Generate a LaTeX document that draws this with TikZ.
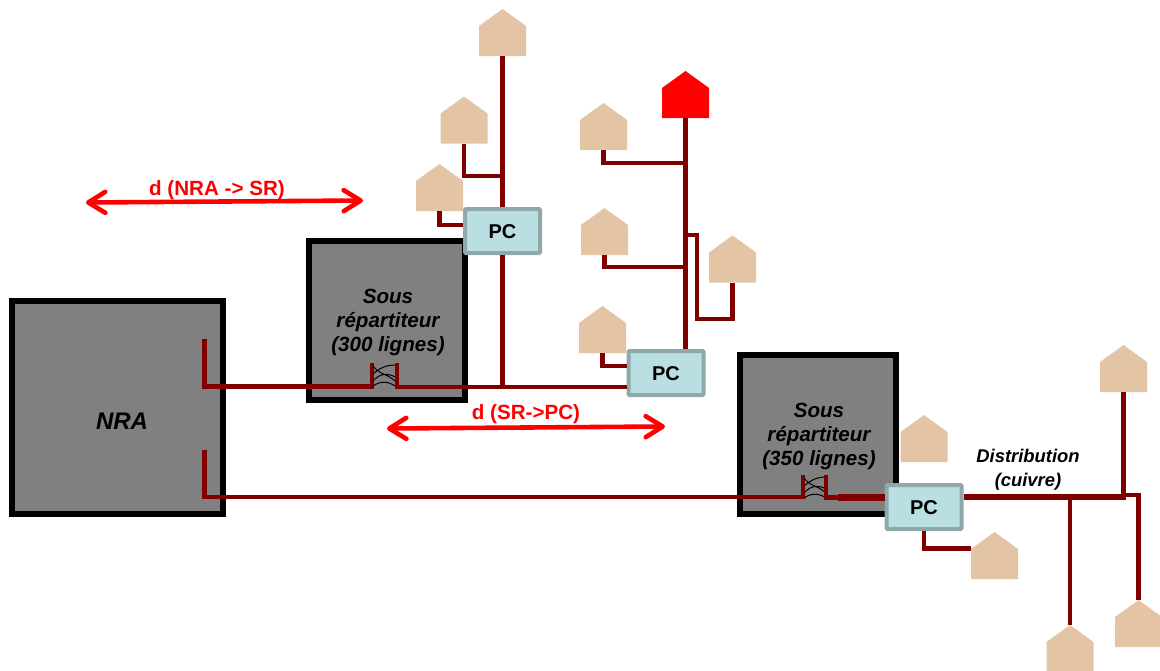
\documentclass[tikz,border=0pt]{standalone}
\usepackage{fontspec}
\setmainfont{Liberation Sans}
\usetikzlibrary{arrows.meta}

\definecolor{housetan}{HTML}{E3C5A6}
\definecolor{cablered}{HTML}{800000}
\definecolor{pcfill}{HTML}{B9DFE2}
\definecolor{pcline}{HTML}{8FA9AB}

\begin{document}
\begin{tikzpicture}[
    x=1pt, y=-1pt,
    >={Straight Barb[length=17pt,width=21pt,round]},
    cable/.style={draw=cablered, line width=4.6pt},
    feeder/.style={draw=cablered, line width=6.5pt},
    span/.style={<->, draw=red, line width=4.6pt},
    spanlabel/.style={text=red, font=\fontsize{20.6}{24}\selectfont\bfseries},
    box/.style={draw=black, fill=gray, line width=6pt},
    boxlabel/.style={
        align=center,
        font=\fontsize{20.6}{24}\selectfont\bfseries\itshape
    },
    pc/.style={
        draw=pcline, fill=pcfill, line width=4pt, rounded corners=1pt,
        minimum width=75pt, minimum height=44pt, inner sep=0pt,
        text height=16pt,
        font=\fontsize{20}{24}\selectfont\bfseries
    },
    house/.style={
        minimum width=47pt, minimum height=47pt, inner sep=0pt, outer sep=0pt,
        path picture={
            \fill[#1] (path picture bounding box.north)
                -- ([yshift=-17pt]path picture bounding box.north east)
                -- (path picture bounding box.south east)
                -- (path picture bounding box.south west)
                -- ([yshift=-17pt]path picture bounding box.north west)
                -- cycle;
        }
    },
    house/.default=housetan,
    wires/.pic={
        \draw[black, line width=1pt]
            (1,11) .. controls (8,5) and (14,2) .. (23,2)
            (1,3) .. controls (8,12) and (14,10) .. (23,18)
            (1,18) .. controls (8,10) and (16,10) .. (23,14)
            (1,23) .. controls (8,18) and (16,18) .. (23,23);
    }
]
\useasboundingbox (0,0) rectangle (1160,670);

% Central office and sub-distributors
\node[box, minimum width=211pt, minimum height=213.5pt] (nra) at (117.5,407.3) {};
\node[boxlabel, font=\fontsize{24}{28}\selectfont\bfseries\itshape] (nralabel) at (122,421) {NRA};
\node[box, minimum width=156pt, minimum height=159pt] (sr1) at (387,320.5) {};
\node[boxlabel] (sr1label) at (388,322) {Sous\\répartiteur\\(300 lignes)};
\node[box, minimum width=156pt, minimum height=159pt] (sr2) at (818,434.5) {};
\node[boxlabel] (sr2label) at (819,436) {Sous\\répartiteur\\(350 lignes)};

% Connection points
\node[pc] (pc1) at (502.5,231) {PC};
\node[pc] (pc2) at (666,373) {PC};
\node[pc] (pc3) at (924,507) {PC};

% Houses, first group
\node[house] (h1) at (502.5,32.5) {};
\node[house] (h2) at (464,120) {};
\node[house] (h3) at (439.5,187.5) {};

% Houses, second group
\node[house=red] (hred) at (685.5,94.5) {};
\node[house] (h5) at (603.5,126.5) {};
\node[house] (h6) at (604.5,231.5) {};
\node[house] (h7) at (732.5,259) {};
\node[house] (h8) at (602.5,329.5) {};

% Houses, third group
\node[house] (h9) at (924,438.5) {};
\node[house] (h10) at (994.5,555.5) {};
\node[house] (h11) at (1123.5,368.5) {};
\node[house] (h12) at (1138.5,623.5) {};
\node[house] (h13) at (1070,648.5) {};

% -------------------------
% Cable ends
% -------------------------
\coordinate (nra1) at (204.5,339);
\coordinate (nra2) at (204.5,450);
\coordinate (sr1in) at (372,363);
\coordinate (sr1inb) at (372,386.5);
\coordinate (sr1out) at (397,363);
\coordinate (sr2in) at (803,475);
\coordinate (sr2inb) at (803,497);
\coordinate (sr2out) at (826,475);
\coordinate (sr2mid) at (838,497.5);
\coordinate (trunk) at (1126,497);
\coordinate (fork) at (1126,495);

% NRA -> sub-distributors
\draw[cable] (nra1) |- (sr1inb) -- (sr1in);
\draw[cable] (nra2) |- (sr2inb) -- (sr2in);

% Cross-connects
\pic (wires1) at (372,363) {wires};
\pic (wires2) at (803,475) {wires};

% Sub-distributors -> PC
\draw[cable] (sr1out) |- ([yshift=-14pt]pc2.west);
\draw[cable] (sr2out) |- (sr2mid);
\draw[feeder] (sr2mid) -- (pc3.west |- sr2mid);

% pc1 branches
\draw[cable] (pc1.south) -- (pc1.south |- sr1inb);
\draw[cable] (h1.south) -- (pc1.north);
\draw[cable] (h2.south) |- (h1.south |- 0,176);
\draw[cable] (h3.south) |- ([yshift=6pt]pc1.west);

% pc2 branches
\draw[cable] (hred.south) -- (hred.south |- pc2.north);
\draw[cable] (h5.south) |- (hred.south |- 0,163);
\draw[cable] (h6.south) |- (hred.south |- 0,267);
\draw[cable] (h7.south) |- (697,319) |- (hred.south |- 0,235);
\draw[cable] (h8.south) |- ([yshift=7pt]pc2.west);

% pc3 branches
\draw[feeder] (pc3.east |- trunk) -- (trunk);
\draw[cable] (h11.south) -- (h11.south |- trunk);
\draw[cable] (h13.north) -- (h13.north |- trunk);
\draw[cable] (fork) -| (h12.north);
\draw[cable] (pc3.south) |- (h10.west |- 0,548.5);

% Distances
\coordinate (d1a) at (86,202.5);
\coordinate (d1b) at (363,200.5);
\coordinate (d2a) at (387,428.5);
\coordinate (d2b) at (665,426.5);
\draw[span] (d1a) -- (d1b);
\draw[span] (d2a) -- (d2b);
\node[spanlabel] (d1label) at (217,190.5) {d (NRA -> SR)};
\node[spanlabel] (d2label) at (526,414.5) {d (SR->PC)};

% Copper label
\node[align=center, font=\fontsize{18.4}{24}\selectfont\bfseries\itshape] (distlabel) at (1028,470)
    {Distribution\\(cuivre)};

\end{tikzpicture}
\end{document}
